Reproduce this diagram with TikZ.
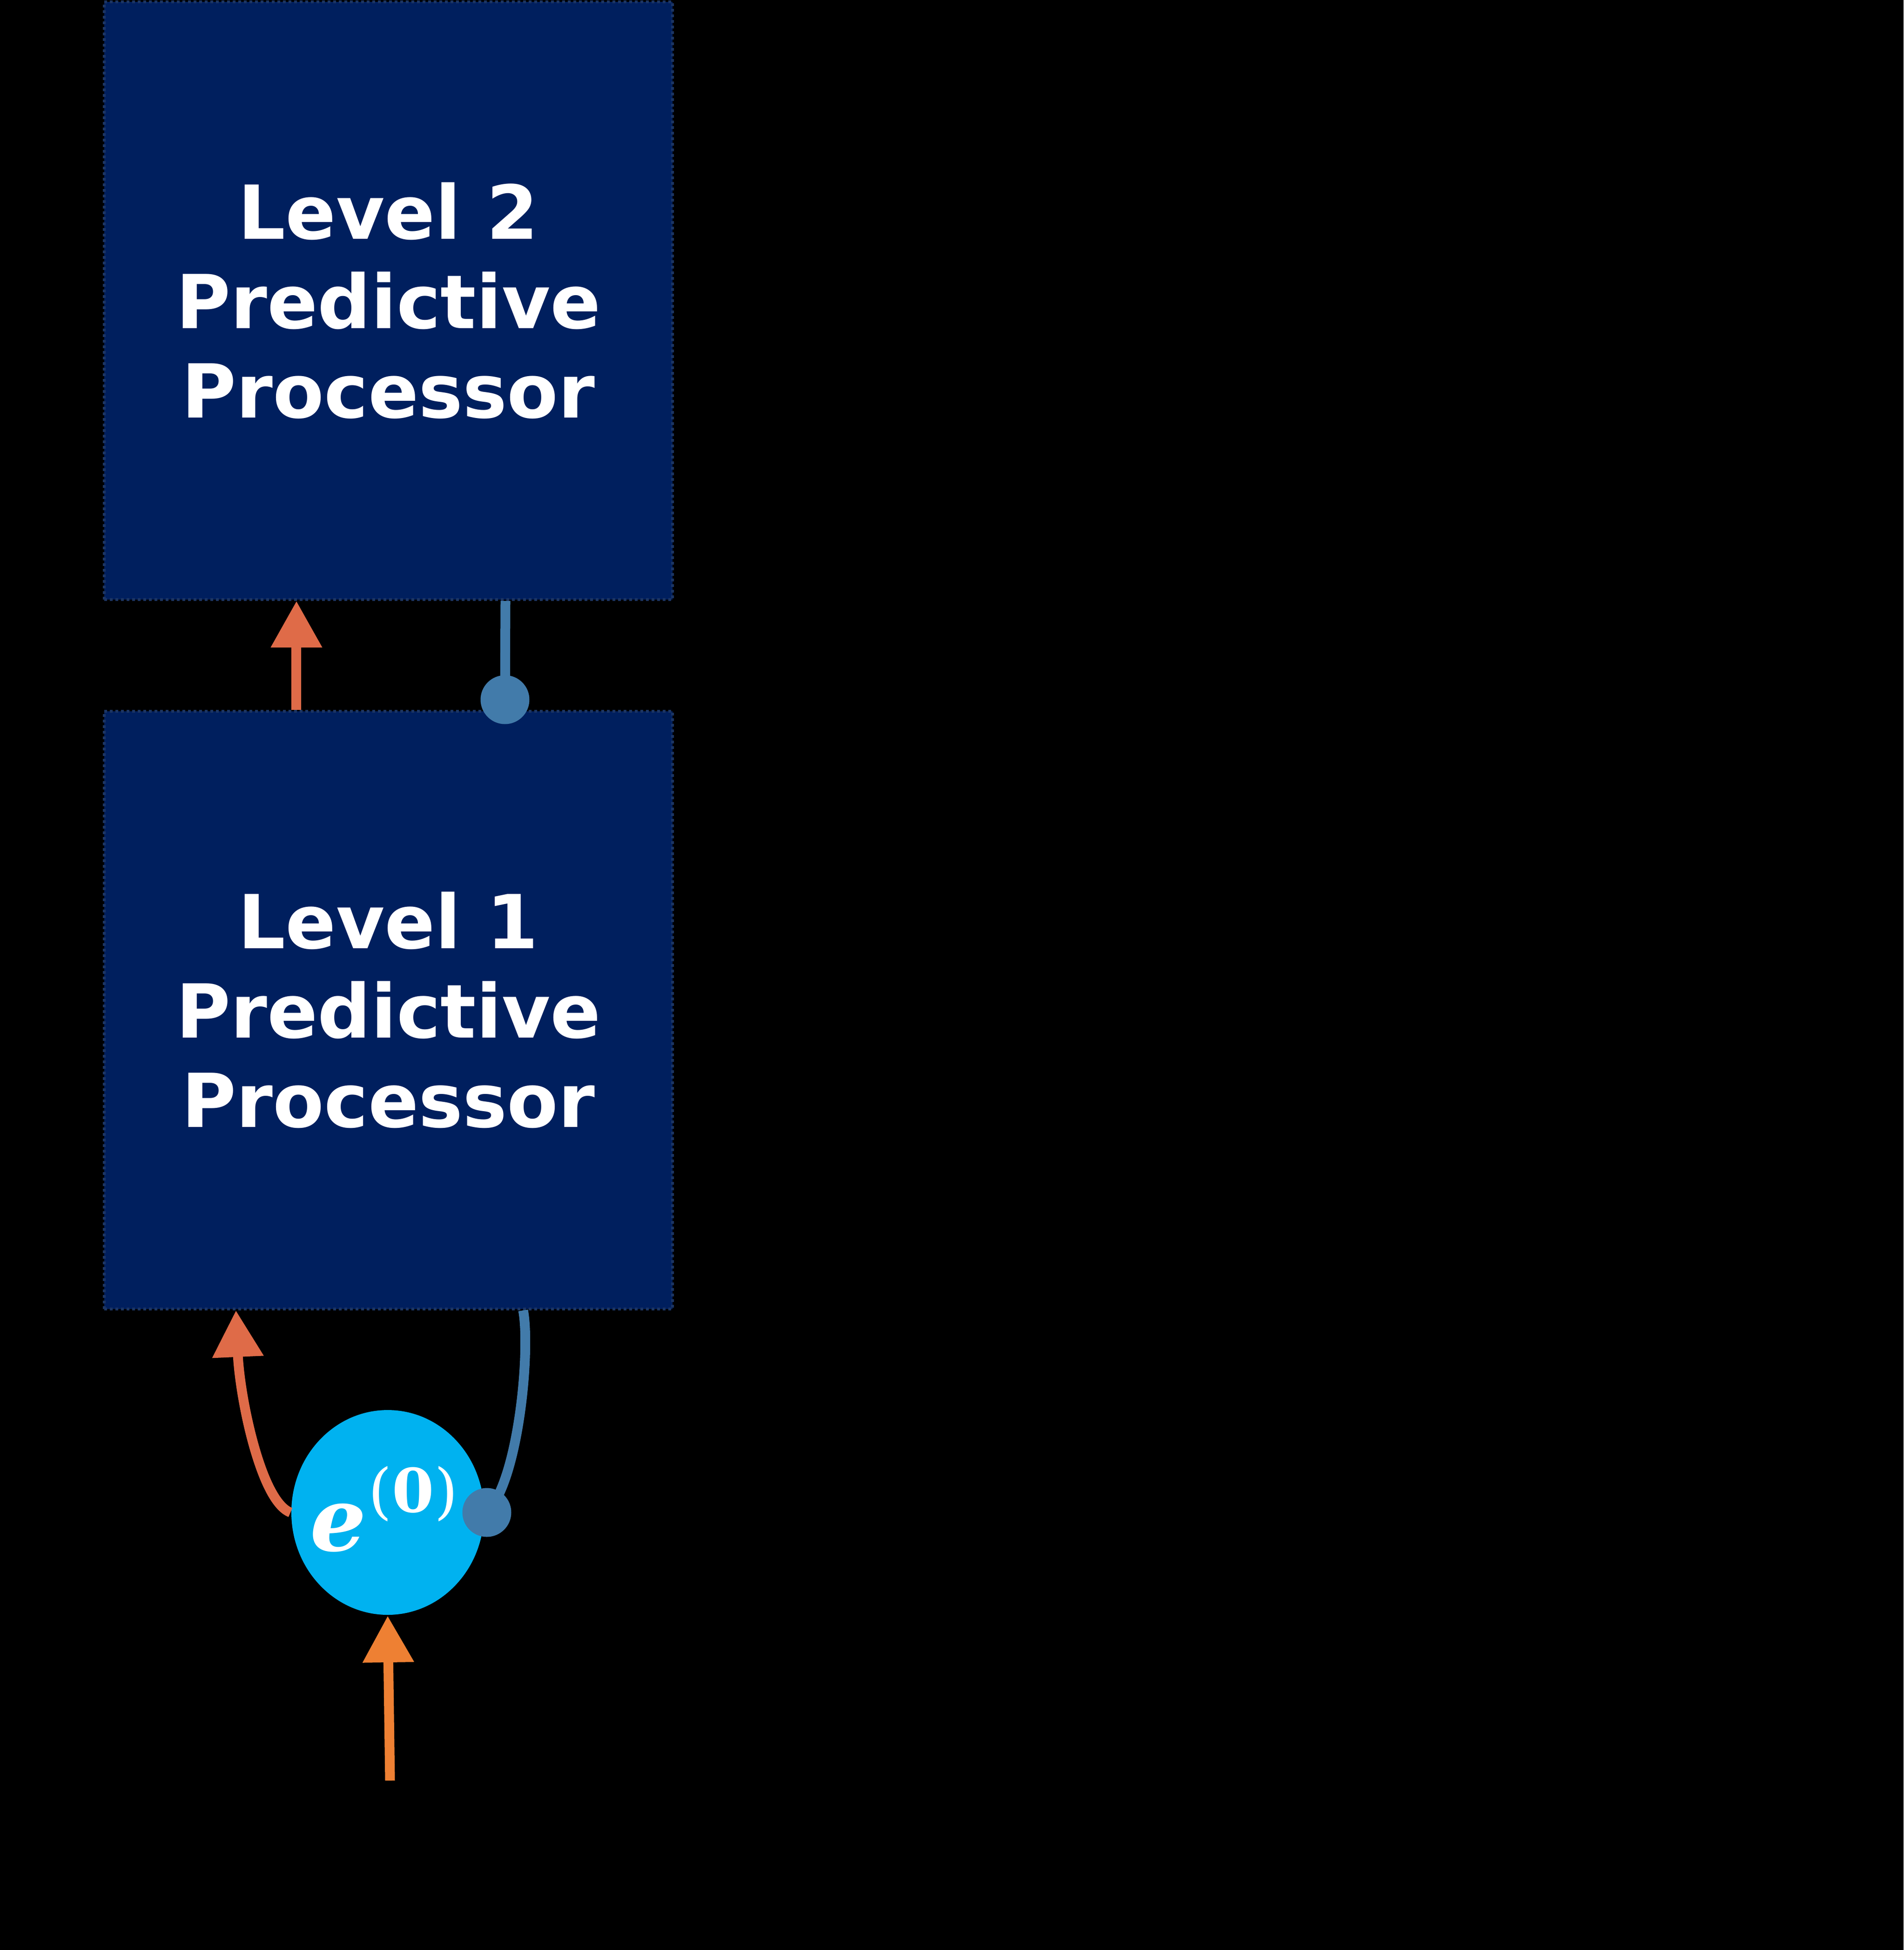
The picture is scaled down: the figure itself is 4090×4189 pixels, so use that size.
\documentclass[tikz,border=0pt]{standalone}
\usepackage[no-math]{fontspec}
\setmainfont{DejaVu Sans}
\newfontfamily\mathlikefont{DejaVu Serif}
\usetikzlibrary{arrows.meta,shapes.geometric,calc}
\definecolor{boxfill}{HTML}{001F5E}
\definecolor{boxline}{HTML}{1C3563}
\definecolor{errfill}{HTML}{00B2F0}
\definecolor{upred}{HTML}{DF6B48}
\definecolor{uporange}{HTML}{EE8033}
\definecolor{downblue}{HTML}{427BAA}
\begin{document}
\begin{tikzpicture}[x=0.1pt,y=-0.1pt,
 procbox/.style={draw=boxline, fill=boxfill, line width=0.6pt, dash pattern=on 0.6pt off 0.6pt,
   minimum width=122.1pt, minimum height=128.4pt, inner sep=0pt, align=center, text=white,
   font=\fontsize{16}{19.2}\selectfont\bfseries},
 errnode/.style={ellipse, fill=errfill, minimum width=41.4pt, minimum height=44pt, inner sep=0pt},
 dotnode/.style={circle, fill=downblue, minimum size=10.5pt, inner sep=0pt},
 uparrow/.style={line width=2.1pt, -{Triangle[length=10pt,width=10.5pt]}},
 downline/.style={draw=downblue, line width=2.1pt}]
\fill[black] (0,0) rectangle (4090,4189);
\node[procbox] (L2) at (834.5,646) {Level 2\\Predictive\\Processor};
\node[procbox] (L1) at (834.5,2170) {Level 1\\Predictive\\Processor};
% between levels
\coordinate (a1s) at ($(L1.north west)!0.339!(L1.north east)$);
\draw[uparrow, upred] (a1s) -- (a1s |- L2.south);
\node[dotnode] (d2) at (1085,1503) {};
\draw[downline] ($(L2.south west)!0.705!(L2.south east)$) -- (d2.center);
% error unit
\node[errnode] (e0) at (833,3249) {};
\node[text=white, inner sep=0pt, anchor=base west] (e0t) at (664,3331)
  {\mathlikefont\fontsize{19}{19}\selectfont\bfseries\itshape e\kern0.5pt\raisebox{8.3pt}{\fontsize{13}{13}\selectfont\upshape\mdseries(\bfseries 0\mdseries)}};
\node[dotnode] (d0) at (1046,3249) {};
\draw[uparrow, upred] (e0.west) .. controls (560,3225) and (515,3000) .. ($(L1.south west)!0.233!(L1.south east)$);
\draw[downline] (d0.center) .. controls (1115,3180) and (1140,2900) .. ($(L1.south west)!0.736!(L1.south east)$);
\coordinate (inp) at (838,3825);
\draw[uparrow, uporange] (inp) -- (e0.south);
\end{tikzpicture}
\end{document}
